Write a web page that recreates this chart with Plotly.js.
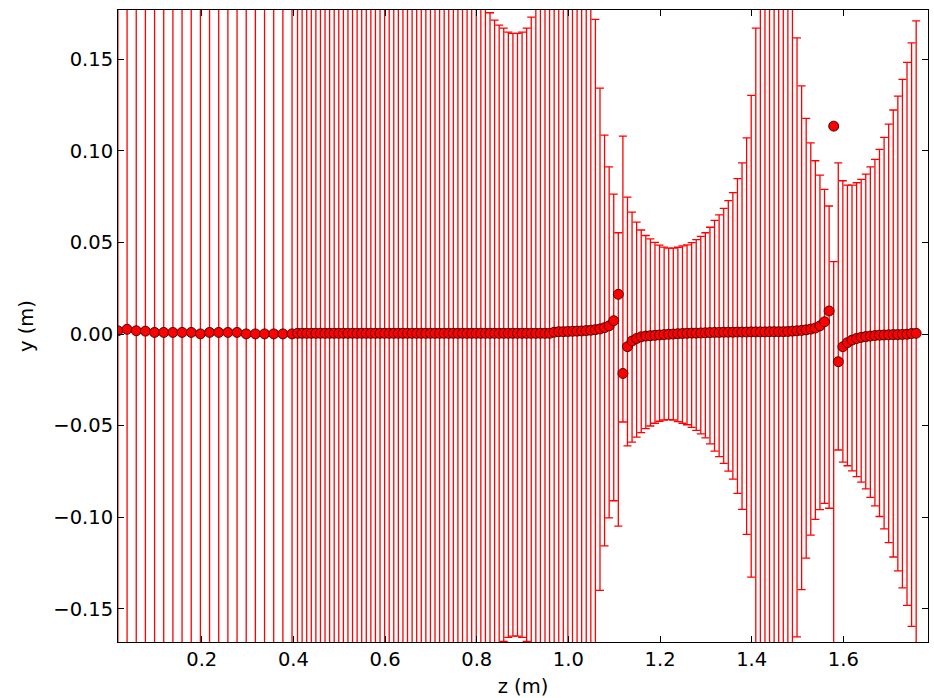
<!DOCTYPE html>
<html><head><meta charset="utf-8">
<script src="https://cdn.plot.ly/plotly-3.0.1.min.js"></script>
<style>html,body{margin:0;padding:0;background:#fff}</style>
</head><body><div id="chart" style="width:934px;height:698px"></div>
<script>
// ---- data ----
const zSparse = [0.017,0.037,0.057,0.077,0.097,0.117,0.137,0.157,0.177,0.197,0.217,0.237,0.257,0.277,0.297,0.317,0.337,0.357,0.377,0.397];
const ySparse = [0.0018,0.0026,0.0018,0.0016,0.0009,0.0009,0.0009,0.0009,0.0009,0.0001,0.0009,0.0009,0.0009,0.0009,0.0001,0.0001,0.0001,0.0001,0.0001,0.0001];
const midSparse = [-0.0018,-0.0026,-0.0018,-0.0016,-0.0009,-0.0009,-0.0009,-0.0009,-0.0009,-0.0001,-0.0009,-0.0009,-0.0009,-0.0009,-0.0001,-0.0001,-0.0001,-0.0001,-0.0001,-0.0001];
const errSparse = [0.90,0.88,0.86,0.84,0.82,0.80,0.78,0.76,0.74,0.72,0.70,0.68,0.66,0.64,0.62,0.60,0.58,0.56,0.54,0.52];

const zDense = [0.409,0.419,0.429,0.439,0.449,0.459,0.469,0.479,0.489,0.499,0.509,0.519,0.529,0.539,0.549,0.559,0.569,0.579,0.589,0.599,
0.609,0.619,0.629,0.639,0.649,0.659,0.669,0.679,0.689,0.699,0.709,0.719,0.729,0.739,0.749,0.759,0.769,0.779,0.789,0.799,
0.809,0.819,0.829,0.839,0.849,0.859,0.869,0.879,0.889,0.899,0.909,0.919,0.929,0.939,0.949,0.959,0.969,0.979,0.989,0.999,
1.009,1.019,1.029,1.039,1.049,1.059,1.069,1.079,1.089,1.099,1.109,1.119,1.129,1.139,1.149,1.159,1.169,1.179,1.189,1.199,
1.209,1.219,1.229,1.239,1.249,1.259,1.269,1.279,1.289,1.299,1.309,1.319,1.329,1.339,1.349,1.359,1.369,1.379,1.389,1.399,
1.409,1.419,1.429,1.439,1.449,1.459,1.469,1.479,1.489,1.499,1.509,1.519,1.529,1.539,1.549,1.559,1.569,1.579,1.589,1.599,
1.609,1.619,1.629,1.639,1.649,1.659,1.669,1.679,1.689,1.699,1.709,1.719,1.729,1.739,1.749,1.759];
const yDense = [0.0004,0.0004,0.0004,0.0004,0.0004,0.0004,0.0004,0.0004,0.0004,0.0004,0.0004,0.0004,0.0004,0.0004,0.0004,0.0004,0.0004,0.0004,0.0004,0.0004,
0.0004,0.0004,0.0004,0.0004,0.0004,0.0004,0.0004,0.0004,0.0004,0.0004,0.0004,0.0004,0.0004,0.0004,0.0004,0.0004,0.0004,0.0004,0.0004,0.0004,
0.0004,0.0004,0.0004,0.0004,0.0004,0.0004,0.0004,0.0004,0.0004,0.0004,0.0004,0.0004,0.0004,0.0004,0.0004,0.0004,0.0010,0.0013,0.0013,0.0014,
0.0015,0.0016,0.0017,0.0019,0.0021,0.0024,0.0028,0.0035,0.0045,0.0073,0.0217,-0.0215,-0.0069,-0.0038,-0.0024,-0.0015,-0.0011,-0.0009,-0.0007,-0.0005,
-0.0003,-0.0001,0.0000,0.0002,0.0003,0.0004,0.0005,0.0005,0.0006,0.0007,0.0008,0.0009,0.0009,0.0010,0.0010,0.0010,0.0011,0.0011,0.0011,0.0012,
0.0012,0.0012,0.0012,0.0013,0.0013,0.0013,0.0013,0.0014,0.0016,0.0018,0.0020,0.0023,0.0027,0.0033,0.0045,0.0067,0.0126,0.1135,-0.0151,-0.0069,
-0.0047,-0.0033,-0.0024,-0.0018,-0.0014,-0.0011,-0.0008,-0.0006,-0.0005,-0.0004,-0.0003,-0.0003,-0.0002,-0.0001,0.0003,0.0004];
const midDense = [-0.0004,-0.0004,-0.0004,-0.0004,-0.0004,-0.0004,-0.0004,-0.0004,-0.0004,-0.0004,-0.0004,-0.0004,-0.0004,-0.0004,-0.0004,-0.0004,-0.0004,-0.0004,-0.0004,-0.0004,
-0.0004,-0.0004,-0.0004,-0.0004,-0.0004,-0.0004,-0.0004,-0.0004,-0.0004,-0.0004,-0.0004,-0.0004,-0.0004,-0.0004,-0.0004,-0.0004,-0.0004,-0.0004,-0.0004,-0.0004,
-0.0004,-0.0004,-0.0004,-0.0004,-0.0004,-0.0004,-0.0004,-0.0004,-0.0004,-0.0004,-0.0004,-0.0004,-0.0004,-0.0004,-0.0004,-0.0004,-0.0010,-0.0013,-0.0013,-0.0014,
-0.0015,-0.0016,-0.0017,-0.0019,-0.0021,-0.0024,-0.0028,-0.0035,-0.0045,-0.0073,-0.0248,0.0300,0.0069,0.0038,0.0024,0.0015,0.0011,0.0009,0.0007,0.0005,
0.0003,0.0001,0.0000,-0.0002,-0.0003,-0.0004,-0.0005,-0.0005,-0.0006,-0.0007,-0.0008,-0.0009,-0.0009,-0.0010,-0.0010,-0.0010,-0.0011,-0.0011,-0.0011,-0.0012,
-0.0012,-0.0012,-0.0012,-0.0013,-0.0013,-0.0013,-0.0013,-0.0014,-0.0016,-0.0018,-0.0020,-0.0023,-0.0027,-0.0033,-0.0045,-0.0067,-0.0126,-0.1135,0.0151,0.0069,
0.0047,0.0033,0.0024,0.0018,0.0014,0.0011,0.0008,0.0006,0.0005,0.0004,0.0003,0.0003,0.0002,0.0001,-0.0003,-0.0004];
const errDense = [0.40,0.39,0.38,0.37,0.36,0.35,0.345,0.34,0.33,0.32,0.31,0.305,0.30,0.29,0.285,0.28,0.27,0.265,0.26,0.255,
0.25,0.245,0.24,0.235,0.23,0.225,0.22,0.215,0.21,0.205,0.20,0.198,0.195,0.192,0.19,0.188,0.186,0.184,0.182,0.180,
0.179,0.178,0.1758,0.1718,0.169,0.1674,0.1652,0.1645,0.1645,0.1652,0.1674,0.1734,0.180,0.185,0.19,0.195,0.20,0.205,0.21,0.21,
0.21,0.205,0.20,0.19,0.182,0.1742,0.1371,0.1121,0.0958,0.0837,0.0801,0.078,0.0679,0.0628,0.0587,0.0553,0.0527,0.0511,0.0494,0.0481,
0.0472,0.0468,0.0469,0.0476,0.0484,0.0491,0.0504,0.0521,0.0539,0.056,0.0591,0.063,0.066,0.0696,0.0738,0.0782,0.0859,0.0946,0.1082,0.1315,
0.1682,0.20,0.23,0.25,0.26,0.26,0.25,0.23,0.20,0.1635,0.1375,0.12,0.1071,0.0979,0.0913,0.0857,0.0825,0.153,0.0784,0.0768,
0.0766,0.078,0.0802,0.0826,0.0859,0.0902,0.0946,0.1002,0.1069,0.1142,0.122,0.1296,0.1388,0.1482,0.1593,0.1714];

const xTickVals = [0.2,0.4,0.6,0.8,1.0,1.2,1.4,1.6];
const xTickText = ['0.2','0.4','0.6','0.8','1.0','1.2','1.4','1.6'];
const yTickVals = [-0.15,-0.10,-0.05,0.00,0.05,0.10,0.15];
const yTickText = ['\u22120.15','\u22120.10','\u22120.05','0.00','0.05','0.10','0.15'];

// ---- build traces ----
const z = zSparse.concat(zDense);
const yPts = ySparse.concat(yDense);
const barMid = midSparse.concat(midDense);
const barErr = errSparse.concat(errDense);

const bars = {
  x: z, y: barMid, type: 'scatter', mode: 'markers',
  marker: {size: 1, opacity: 0, color: 'red'},
  error_y: {type: 'data', symmetric: true, array: barErr, visible: true, color: '#ff0000', thickness: 1.3, width: 4},
  hoverinfo: 'skip', showlegend: false
};
const pts = {
  x: z, y: yPts, type: 'scatter', mode: 'markers',
  marker: {size: 10, color: '#ff0000', line: {color: '#3a0000', width: 0.9}},
  hoverinfo: 'skip', showlegend: false
};

const font = {family: 'DejaVu Sans, sans-serif', size: 19.5, color: '#000'};
const layout = {
  width: 934, height: 698,
  margin: {l: 118, r: 6, t: 10, b: 56, pad: 0},
  paper_bgcolor: '#fff', plot_bgcolor: '#fff',
  font: font, showlegend: false, hovermode: false,
  xaxis: {
    range: [0.0172, 1.7848], tickvals: xTickVals, ticktext: xTickText,
    ticks: 'inside', ticklen: 6, tickwidth: 1, tickcolor: '#000',
    showline: true, linecolor: '#000', linewidth: 1, mirror: 'ticks',
    showgrid: false, zeroline: false, tickfont: font,
    title: {text: 'z (m)', font: font, standoff: 9}, automargin: false
  },
  yaxis: {
    range: [-0.1681, 0.1769], tickvals: yTickVals, ticktext: yTickText,
    ticks: 'inside', ticklen: 6, tickwidth: 1, tickcolor: '#000',
    showline: true, linecolor: '#000', linewidth: 1, mirror: 'ticks',
    showgrid: false, zeroline: false, tickfont: font,
    title: {text: 'y (m)', font: font, standoff: 14}, automargin: false
  }
};
Plotly.newPlot('chart', [bars, pts], layout, {staticPlot: true, displayModeBar: false});
</script>
</body></html>
